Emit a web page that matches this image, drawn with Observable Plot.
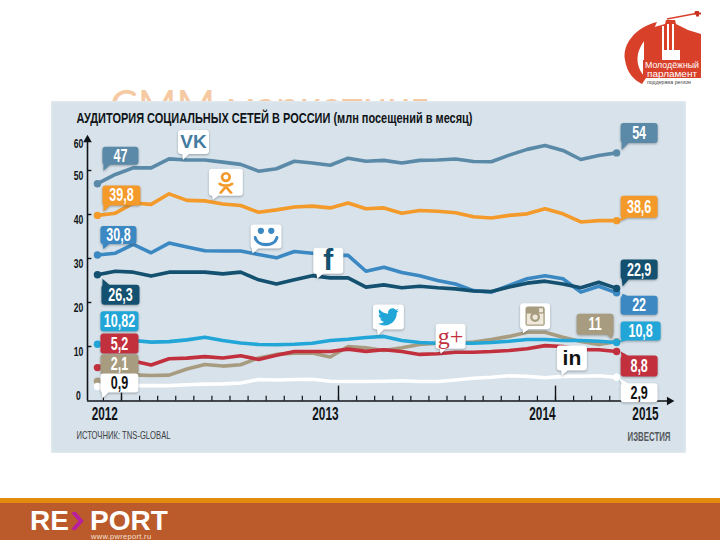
<!DOCTYPE html>
<html lang="ru">
<head>
<meta charset="utf-8">
<script src="https://cdn.jsdelivr.net/npm/d3@7"></script>
<script src="https://cdn.jsdelivr.net/npm/@observablehq/plot@0.6"></script>
<style>
html,body{margin:0;padding:0;background:#fff;width:720px;height:540px;overflow:hidden}
.abs{position:absolute}
#slideTitle{left:110px;top:80px;height:21px;overflow:hidden;font:41.7px/50px Lato,"Noto Sans",sans-serif;color:#f5c9a2;white-space:nowrap}
#panel{left:51px;top:101px;width:635px;height:352px;background:#d7e2ea;box-shadow:inset 0 0 3px #eef3f6}
#strip{left:0;top:498px;width:720px;height:5px;background:#e28b0c}
#foot{left:0;top:503px;width:720px;height:37px;background:#bb5a2b}
#re{left:30px;top:510px;font:bold 28px/21px "Liberation Sans",sans-serif;color:#fff}
#chev{left:71px;top:512px}
#port{left:90px;top:510px;font:bold 28px/21px "Liberation Sans",sans-serif;color:#fff}
#www{left:91px;top:534px;font:7.5px/6px "Liberation Sans",sans-serif;color:#f6e3d6;white-space:nowrap;letter-spacing:.3px}
#logo{left:620px;top:5px}
#chart{left:0;top:0}
</style>
</head>
<body>
<div class="abs" id="slideTitle">СММ маркетинг</div>
<div class="abs" id="panel"></div>
<svg class="abs" id="logo" width="90" height="90" viewBox="620 5 90 90">
  <path d="M657 22C636 27 622 44 625 60C627 73 634 80 642 84L646 78C640 72 636 64 638 54C640 46 645 38 652 33Z" fill="#d8402a"/>
  <path d="M644 30L665 24L666 20L675 20L676 24L688 30L701 34L701 60L680 60L680 50L662 50L662 60L644 60Z" fill="#d8402a"/>
  <path d="M662 26h2v24h-2zM667 24h2v26h-2zM672 24h2v26h-2z" fill="#fff"/>
  <path d="M666 58h10l3 4h-16z" fill="#fff"/>
  <rect x="643" y="60" width="58" height="18" fill="#d8402a"/>
  <path d="M667 19L696 13.5" stroke="#d8402a" stroke-width="1.4" fill="none"/>
  <path d="M695 11h4v1.5h2v2h-2v2h-3v-2h-2v-2h1z" fill="#c93420"/>
  <text x="672" y="68" text-anchor="middle" font-family="Liberation Sans" font-size="9" textLength="54" lengthAdjust="spacingAndGlyphs" fill="#fff">Молодёжный</text>
  <text x="672" y="76.5" text-anchor="middle" font-family="Liberation Sans" font-size="9" textLength="50" lengthAdjust="spacingAndGlyphs" fill="#fff">парламент</text>
  <text x="669" y="84" text-anchor="middle" font-family="Liberation Sans" font-size="5" textLength="44" lengthAdjust="spacingAndGlyphs" fill="#444">поддержка регион</text>
</svg>
<div class="abs" id="strip"></div>
<div class="abs" id="foot"></div>
<div class="abs" id="re">RE</div>
<svg class="abs" id="chev" width="14" height="18"><path d="M2 0L10 9L2 18" fill="none" stroke="#b81fa0" stroke-width="4"/></svg>
<div class="abs" id="port">PORT</div>
<div class="abs" id="www">www.pwreport.ru</div>
<div class="abs" id="chart"></div>

<script>
// ---------- values (million visits per month) ----------
const vk = [47,49.1,50.6,50.6,52.65,52.4,52.4,51.9,51.4,49.85,50.4,52.1,51.7,51.2,52.8,52.1,52.3,51.7,52.3,52.4,52.6,52.05,52,53.5,54.8,55.7,54.55,52.5,53.4,54];
const ok = [39.8,40.3,42.6,42.3,44.7,43.2,43.1,42.4,42.05,40.5,41.05,41.7,41.9,41.5,42.6,41.3,41.5,40.3,40.9,40.75,40.4,39.5,39.2,39.8,40.15,41.3,40.15,38.3,38.6,38.6];
const mailru = [30.8,31.2,33.2,31.3,33.5,32.6,31.75,31.7,31.7,30.9,30.15,31.6,31.2,30.7,30.7,27.1,28,26.8,26.1,25,24.2,22.7,22.35,23.9,25.4,26.1,25.4,22.35,23.7,22.2];
const facebook = [26.3,27.1,26.9,26,26.9,26.9,26.9,26.5,26.9,25.15,24.2,25.15,26.1,25.6,25.6,23.5,24,23.35,23.7,23.35,23.1,22.6,22.5,23.5,24.4,24.85,24.2,23.35,24.6,23.2];
const twitter = [10.5,10.75,11.35,11,11.1,11.5,12.1,11.35,10.8,10.45,10.4,10.5,10.75,11.35,11.65,12.05,12.3,11.35,10.9,10.75,10.75,10.75,10.9,11.2,11.6,11.6,11.35,11.35,11.2,10.9];
const googlePlus = [5.2,6.8,6.7,5.8,7.2,7.35,7.7,7.4,7.9,7.05,8,8.85,8.85,8.85,9.4,8.9,9.25,8.85,8.2,8.35,8.7,8.7,8.85,9.1,9.5,10.2,10,9.3,9.25,8.85];
const instagram = [2.1,3.4,3.55,3.4,3.5,4.9,5.9,5.55,5.85,7.4,8.2,8.5,8.55,7.6,10,9.7,9.1,9.7,10.45,10.75,10.75,11,11.6,12.3,13.25,13.25,12.1,11.15,10.45,11.1];
const linkedin = [0.9,1.1,1.1,1.1,1.1,1.3,1.45,1.5,1.7,2.5,2.4,2.5,2.55,2.1,2.05,2.05,2.1,2.2,2.05,2.05,2.4,2.8,3,3.35,3.2,2.9,3.2,3.25,3.35,3];

// months since the tick labelled 2012
const monthIndex = d3.range(30).map(i => -1.33 + i * 0.99);
const yTickValues = [10,20,30,40,50];
const yLabelValues = [0,10,20,30,40,50];
const monthTicks = d3.range(-1,28);
const yearTicks = [0,12,24];
const yearLabels = ["2012","2013","2014","2015"];
const yearLabelAt = [-0.2,12,24,29.7];

const titleText = "АУДИТОРИЯ СОЦИАЛЬНЫХ СЕТЕЙ В РОССИИ (млн посещений в месяц)";
const sourceText = "ИСТОЧНИК: TNS-GLOBAL";
const brandText = "ИЗВЕСТИЯ";

const C = {vk:"#5b8aa8",ok:"#f39a2b",mailru:"#3b88c3",facebook:"#14506f",twitter:"#22a6d8",googlePlus:"#c2303e",instagram:"#a89c80",linkedin:"#ffffff"};
const seriesValues = {vk,ok,mailru,facebook,twitter,googlePlus,instagram,linkedin};
// lower layers first
const drawOrder = ["vk","ok","instagram","mailru","facebook","googlePlus","linkedin","twitter"];
const rows = drawOrder.flatMap(s => seriesValues[s].map((v,i) => ({s,m:monthIndex[i],v})));

// callouts: anchored on a data point, with pixel offsets for the box and tail
const valueCallouts = [
 ["47","vk",0,[5,-37,36,18],[6,-13],"#fff"],
 ["39,8","ok",0,[5,-30,38,20],[6,-4],"#fff"],
 ["30,8","mailru",0,[3,-29,36,18],[6,-6],"#fff"],
 ["26,3","facebook",0,[4,10,38,20],[5,4],"#fff"],
 ["10,82","twitter",0,[3,-33,38,20],null,"#fff"],
 ["5,2","googlePlus",0,[3,-34,38,20],null,"#fff"],
 ["2,1","instagram",0,[3,-27,38,20],null,"#fff"],
 ["0,9","linkedin",0,[3,-13,38,19],[5,12],"#111"],
 ["54","vk",29,[4,-30,37,20],[5,-3],"#fff"],
 ["38,6","ok",29,[4,-25,37,22],[2,1],"#fff"],
 ["22,9","facebook",29,[4,-29,37,20],[6,-2],"#fff"],
 ["22","mailru",29,[4,3,37,19],[6,1],"#fff"],
 ["10,8","twitter",29,[4,-21,40,19],[2,0],"#fff"],
 ["8,8","googlePlus",29,[4,4,37,21],[4,0],"#fff"],
 ["2,9","linkedin",29,[4,6,37,19],[3,1],"#111"],
 ["11","instagram",29,[-40,-28,37,21],[-5,-3],"#fff"]
];
const iconBubbles = [
 ["vk",5,[-9,-30,31,24],[-4,0]],
 ["ok",6,[4,-32,34,27],[8,-1]],
 ["mailru",9,[-8,-30,31,24],[-6,-1]],
 ["facebook",12,[1,-28,30,26],[5,3]],
 ["twitter",16,[-11,-32,31,25],[-6,-1]],
 ["googlePlus",19,[-2,-30,30,25],[3,0]],
 ["instagram",24,[-7,-29,30,26],[-4,1]],
 ["linkedin",26,[-6,-31,30,25],[-1,-1]]
];
const iconText = {
 vk:{t:"VK",f:"#437c9f",size:19,family:"Liberation Sans",weight:"bold"},
 facebook:{t:"f",f:C.facebook,size:30,family:"Liberation Sans",weight:"bold"},
 googlePlus:{t:"g+",f:C.googlePlus,size:24,family:"Liberation Serif",weight:"normal"},
 linkedin:{t:"in",f:"#111",size:21,family:"Liberation Sans",weight:"bold"}
};
const svgUri = s => "data:image/svg+xml," + encodeURIComponent(`<svg xmlns="http://www.w3.org/2000/svg" viewBox="0 0 24 24">${s}</svg>`);
const iconImage = {
 ok:svgUri(`<g fill="none" stroke="${C.ok}" stroke-width="2.8" stroke-linecap="round"><circle cx="12" cy="6.5" r="4"/><path d="M5.5 13.5C9 16 15 16 18.5 13.5M12 15.5V17M12 16.5L6.5 23M12 16.5L17.5 23"/></g>`),
 mailru:svgUri(`<g fill="none" stroke="${C.mailru}" stroke-width="3" stroke-linecap="round"><path d="M1.5 13C4 22 20 22 22.5 13"/></g><circle cx="7" cy="6.5" r="3" fill="${C.mailru}"/><circle cx="17" cy="6.5" r="3" fill="${C.mailru}"/>`),
 twitter:svgUri(`<path fill="${C.twitter}" d="M23.95 4.57a10 10 0 0 1-2.82.77 4.96 4.96 0 0 0 2.16-2.72c-.95.55-2 .96-3.12 1.19a4.92 4.92 0 0 0-8.38 4.48C7.69 8.1 4.07 6.13 1.64 3.16a4.82 4.82 0 0 0-.66 2.48c0 1.71.87 3.21 2.19 4.1a4.9 4.9 0 0 1-2.23-.62v.06a4.92 4.92 0 0 0 3.95 4.83 5 5 0 0 1-2.21.09 4.94 4.94 0 0 0 4.6 3.42A9.87 9.87 0 0 1 0 19.54a13.94 13.94 0 0 0 7.55 2.21c9.05 0 14-7.5 14-13.98 0-.21 0-.42-.02-.63a9.94 9.94 0 0 0 2.42-2.57z"/>`),
 instagram:svgUri(`<rect x="1" y="1" width="22" height="22" rx="3" fill="${C.instagram}"/><rect x="2.5" y="9" width="19" height="12.5" fill="#efe9dc"/><circle cx="12" cy="13" r="5.6" fill="${C.instagram}"/><circle cx="12" cy="13" r="3" fill="#efe9dc"/><rect x="16.5" y="3" width="4.5" height="4.5" fill="#efe9dc"/>`)
};

const labelFont = '"Liberation Sans",sans-serif';
const shadow = "drop-shadow(0 1.5px 1px rgba(40,50,60,.38))";

function calloutSymbol([l,t,w,h],tip){
  const r = 3;
  return {draw(c){
    c.moveTo(l+r,t);
    c.arcTo(l+w,t,l+w,t+r,r);
    c.arcTo(l+w,t+h,l+w-r,t+h,r);
    c.arcTo(l,t+h,l,t+h-r,r);
    c.arcTo(l,t,l+r,t,r);
    c.closePath();
    if(tip){
      const [tx,ty]=tip, b=Math.min(l+w-8,Math.max(l+1,tx-1));
      if(ty>=t+h/2){ c.moveTo(b,t+h-1); c.lineTo(b+8,t+h-1); c.lineTo(tx,ty); }
      else { c.moveTo(b+8,t+1); c.lineTo(b,t+1); c.lineTo(tx,ty); }
      c.closePath();
    }
  }};
}
const pointOf = (s,i) => ({m:monthIndex[i],v:seriesValues[s][i]});

const calloutMarks = valueCallouts.flatMap(([label,s,i,box,tip,ink]) => [
  Plot.dot([pointOf(s,i)],{x:"m",y:"v",r:10,symbol:calloutSymbol(box,tip),fill:C[s],stroke:"none",imageFilter:shadow}),
  Plot.text([label],{x:()=>monthIndex[i],y:()=>seriesValues[s][i],dx:box[0]+box[2]/2,dy:box[1]+box[3]/2,fill:ink,
    fontFamily:labelFont,fontWeight:"bold",fontSize:19,className:"squeezed"})
]);
const bubbleMarks = iconBubbles.flatMap(([s,i,box,tip]) => {
  const out=[Plot.dot([pointOf(s,i)],{x:"m",y:"v",r:10,symbol:calloutSymbol(box,tip),fill:"#fff",stroke:"none",imageFilter:shadow})];
  const cx=box[0]+box[2]/2, cy=box[1]+box[3]/2;
  if(iconText[s]){
    const g=iconText[s];
    out.push(Plot.text([g.t],{x:()=>monthIndex[i],y:()=>seriesValues[s][i],dx:cx,dy:cy,fill:g.f,fontSize:g.size,fontFamily:g.family,fontWeight:g.weight}));
  } else {
    const side = s==="ok"?23:(s==="mailru"?25:21);
    out.push(Plot.image([pointOf(s,i)],{x:"m",y:"v",dx:cx,dy:cy,width:side,height:side,src:iconImage[s]}));
  }
  return out;
});

const axisFloor = -2.4, axisLeft = -1.88, axisRight = 30.3, axisTop = 57;
const ink = "#101418";

const chart = Plot.plot({
  width:720,height:540,margin:0,
  x:{axis:null,domain:[0,24],range:[121,555]},
  y:{axis:null,domain:[0,60],range:[390,126]},
  style:{background:"transparent",overflow:"visible"},
  marks:[
    // axes
    Plot.ruleY([axisFloor],{x1:axisLeft,x2:axisRight,stroke:ink,strokeWidth:1.6}),
    Plot.ruleX([axisLeft],{y1:axisFloor,y2:axisTop,stroke:ink,strokeWidth:1.6}),
    Plot.dot([0],{x:()=>axisRight,y:()=>axisFloor,symbol:"triangle",rotate:90,r:3.2,fill:ink,stroke:"none"}),
    Plot.dot([0],{x:()=>axisLeft,y:()=>axisTop,symbol:"triangle",r:3.2,fill:ink,stroke:"none"}),
    Plot.ruleY(yTickValues,{x1:axisLeft,x2:axisLeft+0.24,stroke:ink,strokeWidth:1.4}),
    Plot.ruleX(monthTicks,{y1:axisFloor,y2:axisFloor+1.1,stroke:ink,strokeWidth:1.2}),
    Plot.ruleX(yearTicks,{y1:axisFloor,y2:axisFloor+3.4,stroke:ink,strokeWidth:1.4}),
    Plot.text(yLabelValues,{x:()=>axisLeft,y:d=>d,dx:-9,dy:5,text:d=>String(d),fill:ink,fontFamily:labelFont,fontWeight:"bold",fontSize:13,className:"squeezed"}),
    Plot.text(["60"],{x:()=>axisLeft,y:()=>60,dx:-9,dy:17,fill:ink,fontFamily:labelFont,fontWeight:"bold",fontSize:13,className:"squeezed"}),
    Plot.text(yearLabels,{x:(d,i)=>yearLabelAt[i],y:()=>axisFloor,dy:13,textAnchor:"end",fill:ink,fontFamily:labelFont,fontWeight:"bold",fontSize:19,className:"squeezed"}),
    // series
    Plot.line(rows,{x:"m",y:"v",z:"s",stroke:d=>C[d.s],strokeWidth:3.6,strokeLinejoin:"round",strokeLinecap:"round",sort:null}),
    Plot.dot(rows.filter(d=>d.m===monthIndex[0]||d.m===monthIndex[29]),{x:"m",y:"v",r:3.7,fill:d=>C[d.s],stroke:"none"}),
    // callouts
    ...calloutMarks,
    ...bubbleMarks,
    // texts
    Plot.text([titleText],{frameAnchor:"top-left",dx:76,dy:112,textAnchor:"start",lineAnchor:"top",fill:ink,fontFamily:labelFont,fontWeight:"bold",fontSize:14.5,className:"squeezed"}),
    Plot.text([sourceText],{frameAnchor:"top-left",dx:76,dy:431,textAnchor:"start",lineAnchor:"top",fill:"#3c4146",fontFamily:labelFont,fontSize:11,className:"squeezed"}),
    Plot.text([brandText],{frameAnchor:"top-left",dx:670,dy:431,textAnchor:"end",lineAnchor:"top",fill:"#55595d",fontFamily:labelFont,fontWeight:"bold",fontSize:13,className:"squeezed"})
  ]
});
chart.style.background="transparent";
document.getElementById("chart").appendChild(chart);

// narrow the tall condensed lettering of the source with SVG's own text fitting
const fitWidth = {[titleText]:396,[sourceText]:94,[brandText]:43};
chart.querySelectorAll(".squeezed text, text.squeezed").forEach(t => {
  const w = fitWidth[t.textContent] ?? t.getComputedTextLength() * (/^20\d\d$/.test(t.textContent) ? 0.62 : 0.66);
  t.setAttribute("textLength", w);
  t.setAttribute("lengthAdjust", "spacingAndGlyphs");
});
</script>
</body>
</html>
